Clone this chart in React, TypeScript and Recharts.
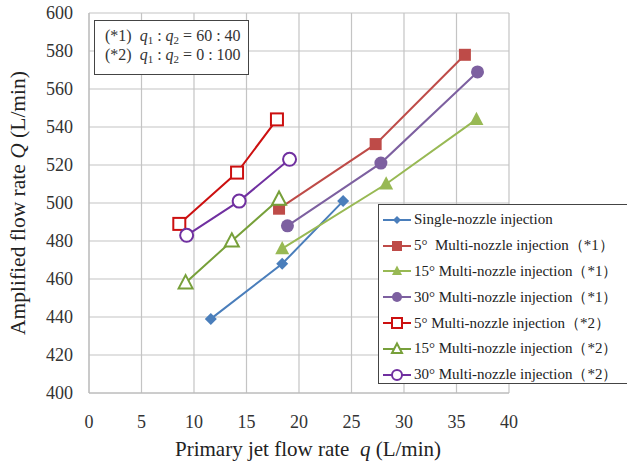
import React from "react";
import { ScatterChart, Scatter, XAxis, YAxis, CartesianGrid } from "recharts";

const X_TICKS = [0, 5, 10, 15, 20, 25, 30, 35, 40];
const Y_TICKS = [400, 420, 440, 460, 480, 500, 520, 540, 560, 580, 600];

// primary jet flow rate q / amplified flow rate Q
const SINGLE_Q = [11.6, 18.4, 24.2];
const SINGLE_FLOW = [439, 468, 501];
const M5_1_Q = [18.1, 27.3, 35.8];
const M5_1_FLOW = [497, 531, 578];
const M15_1_Q = [18.4, 28.3, 36.9];
const M15_1_FLOW = [476, 510, 544];
const M30_1_Q = [18.9, 27.8, 37.0];
const M30_1_FLOW = [488, 521, 569];
const M5_2_Q = [8.6, 14.1, 17.9];
const M5_2_FLOW = [489, 516, 544];
const M15_2_Q = [9.2, 13.6, 18.1];
const M15_2_FLOW = [458, 480, 502];
const M30_2_Q = [9.3, 14.3, 19.1];
const M30_2_FLOW = [483, 501, 523];

const SERIF = "'Liberation Serif', 'Times New Roman', serif";

const toPts = (xs: number[], ys: number[]) => xs.map((x, i) => ({ x, y: ys[i] }));

type Kind = "diamond" | "square" | "triangle" | "circle";

function Marker({ kind, cx, cy, color, open, s }: { kind: Kind; cx: number; cy: number; color: string; open: boolean; s: number }) {
  const fill = open ? "#fff" : color;
  const sw = open ? 2 : 0;
  if (kind === "diamond") {
    return <polygon points={`${cx},${cy - s} ${cx + s},${cy} ${cx},${cy + s} ${cx - s},${cy}`} fill={fill} stroke={color} strokeWidth={sw} />;
  }
  if (kind === "square") {
    return <rect x={cx - s} y={cy - s} width={2 * s} height={2 * s} fill={fill} stroke={color} strokeWidth={sw} />;
  }
  if (kind === "triangle") {
    return <polygon points={`${cx},${cy - s * 1.1} ${cx + s},${cy + s * 0.8} ${cx - s},${cy + s * 0.8}`} fill={fill} stroke={color} strokeWidth={sw} />;
  }
  return <circle cx={cx} cy={cy} r={s} fill={fill} stroke={color} strokeWidth={sw} />;
}

const SERIES = [
  { name: "Single-nozzle injection", data: toPts(SINGLE_Q, SINGLE_FLOW), color: "#4A7EBB", kind: "diamond" as Kind, open: false, s: 6 },
  { name: "5°  Multi-nozzle injection（*1）", data: toPts(M5_1_Q, M5_1_FLOW), color: "#BE4B48", kind: "square" as Kind, open: false, s: 6 },
  { name: "15° Multi-nozzle injection（*1）", data: toPts(M15_1_Q, M15_1_FLOW), color: "#98B954", kind: "triangle" as Kind, open: false, s: 7 },
  { name: "30° Multi-nozzle injection（*1）", data: toPts(M30_1_Q, M30_1_FLOW), color: "#7D60A0", kind: "circle" as Kind, open: false, s: 6.5 },
  { name: "5° Multi-nozzle injection（*2）", data: toPts(M5_2_Q, M5_2_FLOW), color: "#CC1010", kind: "square" as Kind, open: true, s: 6 },
  { name: "15° Multi-nozzle injection（*2）", data: toPts(M15_2_Q, M15_2_FLOW), color: "#77A03A", kind: "triangle" as Kind, open: true, s: 7 },
  { name: "30° Multi-nozzle injection（*2）", data: toPts(M30_2_Q, M30_2_FLOW), color: "#7030A0", kind: "circle" as Kind, open: true, s: 6.5 },
];

function LegendBox() {
  return (
    <div
      style={{
        position: "absolute",
        left: 378,
        top: 204,
        width: 262,
        height: 180,
        boxSizing: "border-box",
        border: "1.5px solid #444",
        background: "#fff",
        padding: "2px 0 0 3px",
        fontSize: 15,
        color: "#222",
      }}
    >
      {SERIES.map((s) => (
        <div key={s.name} style={{ display: "flex", alignItems: "center", height: 25.8 }}>
          <svg width={30} height={16} style={{ marginRight: 2 }}>
            <line x1={1} y1={8} x2={29} y2={8} stroke={s.color} strokeWidth={2} />
            <Marker kind={s.kind} cx={15} cy={8} color={s.color} open={s.open} s={s.kind === "diamond" ? 4 : 5} />
          </svg>
          <span style={{ whiteSpace: "pre" }}>{s.name}</span>
        </div>
      ))}
    </div>
  );
}

function Sub({ children }: { children: React.ReactNode }) {
  return <span style={{ fontSize: 11, verticalAlign: -3, lineHeight: 0 }}>{children}</span>;
}

export default function App() {
  return (
    <div style={{ position: "absolute", left: 0, top: 0, width: 627, height: 465, background: "#fff", fontFamily: SERIF, overflow: "hidden" }}>
      <ScatterChart width={627} height={465} margin={{ top: 13, right: 118, bottom: 0, left: 0 }} style={{ fontFamily: SERIF }}>
        <CartesianGrid stroke="#C4C4C4" strokeWidth={1.2} />
        <XAxis
          type="number"
          dataKey="x"
          domain={[0, 40]}
          ticks={X_TICKS}
          height={72}
          tickSize={0}
          tickMargin={22}
          tickLine={false}
          axisLine={{ stroke: "#B8B8B8" }}
          tick={{ fill: "#333", fontSize: 18, fontFamily: SERIF }}
          interval={0}
        />
        <YAxis
          type="number"
          dataKey="y"
          domain={[400, 600]}
          ticks={Y_TICKS}
          width={89}
          tickSize={0}
          tickMargin={16}
          tickLine={false}
          axisLine={{ stroke: "#B8B8B8" }}
          tick={{ fill: "#333", fontSize: 18, fontFamily: SERIF }}
          interval={0}
        />
        {SERIES.map((s) => (
          <Scatter
            key={s.name}
            name={s.name}
            data={s.data}
            line={{ stroke: s.color, strokeWidth: 2 }}
            lineType="joint"
            isAnimationActive={false}
            shape={(p: any) => <Marker kind={s.kind} cx={p.cx} cy={p.cy} color={s.color} open={s.open} s={s.s} />}
          />
        ))}
      </ScatterChart>

      <LegendBox />

      <div
        style={{
          position: "absolute",
          left: 94,
          top: 20,
          width: 155,
          height: 55,
          border: "1.5px solid #444",
          background: "#fff",
          fontSize: 16,
          color: "#333",
          lineHeight: "19px",
          padding: "5px 0 0 10px",
          boxSizing: "border-box",
        }}
      >
        <div>
          (*1)&nbsp; <i>q</i>
          <Sub>1</Sub> : <i>q</i>
          <Sub>2</Sub> = 60 : 40
        </div>
        <div>
          (*2)&nbsp; <i>q</i>
          <Sub>1</Sub> : <i>q</i>
          <Sub>2</Sub> = 0 : 100
        </div>
      </div>

      <div
        style={{
          position: "absolute",
          left: 308,
          top: 449,
          transform: "translate(-50%, -50%)",
          whiteSpace: "pre",
          fontSize: 21,
          color: "#222",
        }}
      >
        Primary jet flow rate  <i>q</i> (L/min)
      </div>
      <div
        style={{
          position: "absolute",
          left: 18,
          top: 203,
          transform: "translate(-50%, -50%) rotate(-90deg)",
          whiteSpace: "pre",
          fontSize: 21.5,
          color: "#222",
        }}
      >
        Amplified flow rate <i>Q</i> (L/min)
      </div>
    </div>
  );
}
